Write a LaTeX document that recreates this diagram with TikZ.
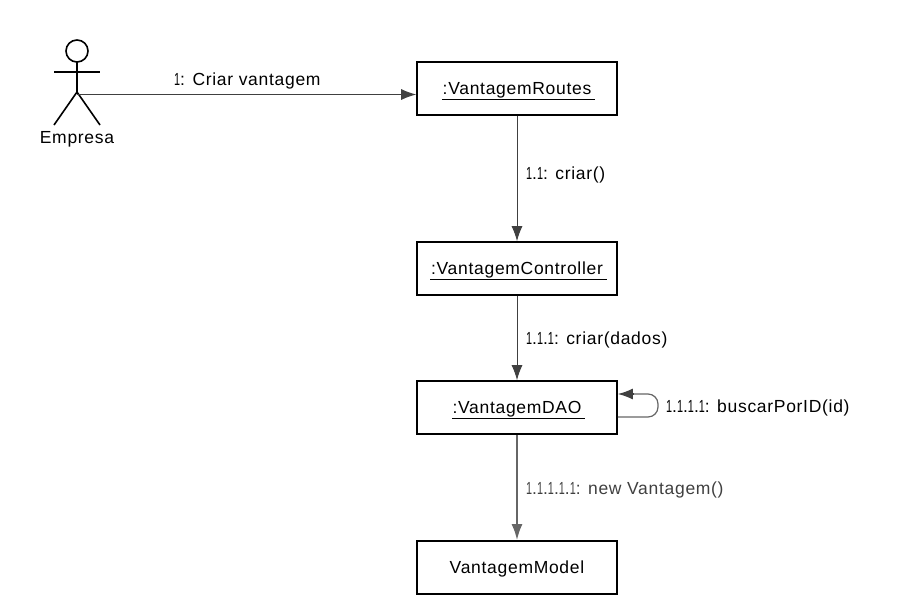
\documentclass[tikz,border=0pt]{standalone}
\usepackage{fontspec}
\setmainfont[LetterSpace=4]{Liberation Sans}
\usetikzlibrary{arrows.meta}

\newcommand{\one}{\scalebox{0.62}[1]{1}}

\tikzset{
  objbox/.style={draw=black, line width=1.7pt, minimum width=200pt, minimum height=53pt, inner sep=0pt, text height=12pt, text depth=0pt, font=\fontsize{17.5}{20}\selectfont},
  msgtext/.style={anchor=base west, inner sep=0pt, font=\fontsize{17.5}{20}\selectfont},
  msgline/.style={draw=black!75, line width=0.9pt, -{Latex[length=15pt,width=11pt]}},
  newline/.style={draw=black!60, line width=2pt, -{Latex[length=16pt,width=11pt]}},
}

\begin{document}
\begin{tikzpicture}[x=1pt,y=-1pt]
        \useasboundingbox (0,0) rectangle (916,616);
        % actor
        \draw[line width=1.6pt] (77,51) circle (11);
        \draw[line width=1.6pt] (77,62) -- (77,92);
        \draw[line width=1.6pt] (54,72) -- (100,72);
        \draw[line width=1.6pt] (54,125) -- (77,92) -- (100,125);
        \coordinate (hip) at (77,94.5);
        \node[msgtext, anchor=base] (empresa) at (77,143) {Empresa};

        % objects
        \node[objbox] (routes) at (517,88.5) {:VantagemRoutes};
        \node[objbox] (controller) at (517,268.5) {:VantagemController};
        \node[objbox] (dao) at (517,407.5) {:VantagemDAO};
        \node[objbox] (model) at (517,567.5) {VantagemModel};
        \draw[shift={(routes.center)},line width=0.8pt] (-75,10.5) -- (78,10.5);
        \draw[shift={(controller.center)},line width=0.8pt] (-87,10.5) -- (90,10.5);
        \draw[shift={(dao.center)},line width=0.8pt] (-65,10.5) -- (68,10.5);

        % messages
        \draw[msgline] (hip) -- (routes.west |- hip);
        \draw[msgline] (routes) -- (controller);
        \draw[msgline] (controller) -- (dao);
        \draw[newline] (dao) -- (model);
        \coordinate (loopout) at (dao.east |- 0,417);
        \coordinate (loopin) at (dao.east |- 0,394);
        \draw[draw=black!60, line width=1.2pt, rounded corners=10pt] (loopout) -- (658,417) -- (658,394) -- (632,394);
        \draw[draw=black!75, line width=1.2pt, -{Latex[length=15pt,width=11pt]}] (634,394) -- (loopin);

        \node[msgtext] (m1) at (174,85) {\one: Criar vantagem};
        \node[msgtext] (m11) at (526,179) {\one.\one: criar()};
        \node[msgtext] (m111) at (526,344) {\one.\one.\one: criar(dados)};
        \node[msgtext] (m1111) at (666,412) {\one.\one.\one.\one: buscarPorID(id)};
        \node[msgtext, text=black!75] (m11111) at (526,494) {\one.\one.\one.\one.\one: new Vantagem()};
\end{tikzpicture}
\end{document}
